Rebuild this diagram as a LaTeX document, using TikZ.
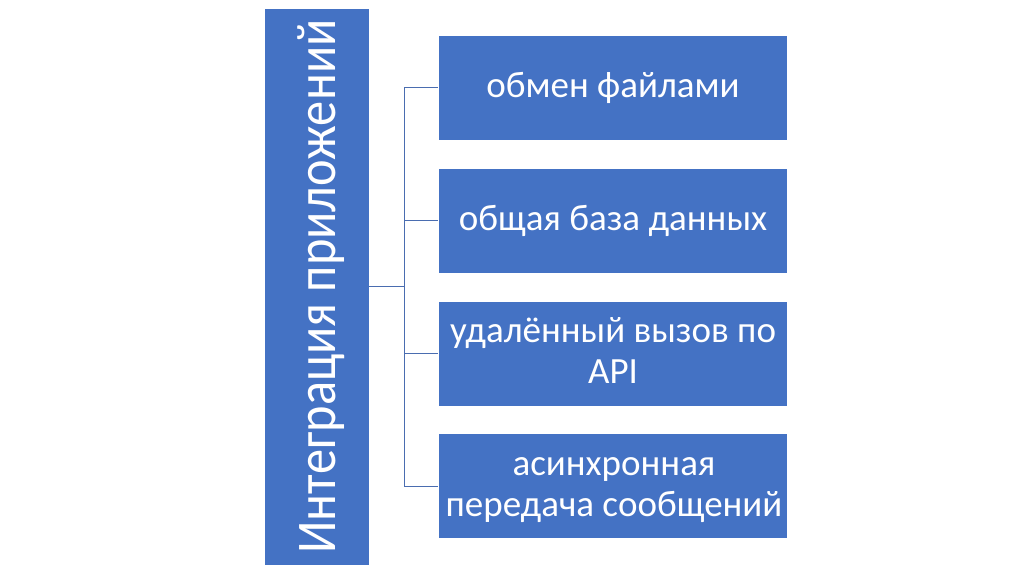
\documentclass[tikz,border=0pt]{standalone}
\usepackage{fontspec}
\setmainfont{Carlito}
\definecolor{boxblue}{HTML}{4472C4}
\definecolor{linecol}{HTML}{4A6DB0}
\begin{document}
\begin{tikzpicture}[x=1pt,y=-1pt,
  box/.style={fill=boxblue,draw=white,line width=0.8pt,minimum width=349pt,minimum height=105pt,inner sep=0pt},
  label/.style={anchor=base,inner sep=0pt,text=white,font=\fontsize{37}{41}\selectfont},
  conn/.style={draw=linecol,line width=1pt}]
\useasboundingbox (0,0) rectangle (1024,574);
\node[fill=boxblue,draw=white,line width=0.8pt,minimum width=105pt,minimum height=557pt,inner sep=0pt] (main) at (316.5,286.5) {};
\node[rotate=90,anchor=base,text=white,font=\fontsize{56}{60}\selectfont,inner sep=0pt] (mt) at (335,286.5) {\scalebox{0.9}[1]{Интеграция приложений}};
\node[box] (b1) at (612.5,87.5) {};
\node[box] (b2) at (612.5,220.5) {};
\node[box] (b3) at (612.5,353.5) {};
\node[box] (b4) at (612.5,486) {};
\node[label] (t1) at (613,97) {обмен файлами};
\node[label] (t2) at (613,230) {общая база данных};
\node[label] (t3) at (613,342) {\begin{tabular}[t]{@{}c@{}}удалённый вызов по\\API\end{tabular}};
\node[label] (t4) at (614,475) {\begin{tabular}[t]{@{}c@{}}асинхронная\\передача сообщений\end{tabular}};
\coordinate (j) at (404,286.5);
\draw[conn] (main.east) -- (j);
\draw[conn] (b1.west) -| (j);
\draw[conn] (b4.west) -| (j);
\draw[conn] (b2.west) -- (b2.west -| j);
\draw[conn] (b3.west) -- (b3.west -| j);
\end{tikzpicture}
\end{document}
